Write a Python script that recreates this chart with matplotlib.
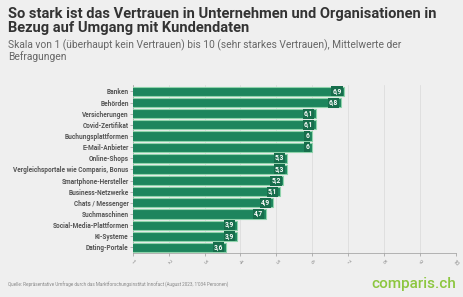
import matplotlib.pyplot as plt
import numpy as np

categories = ["Banken", "Behörden", "Versicherungen", "Covid-Zertifikat",
              "Buchungsplattformen", "E-Mail-Anbieter", "Online-Shops",
              "Vergleichsportale wie Comparis, Bonus", "Smartphone-Hersteller",
              "Business-Netzwerke", "Chats / Messenger", "Suchmaschinen",
              "Social-Media-Plattformen", "KI-Systeme", "Dating-Portale"]
values = [6.9, 6.8, 6.1, 6.1, 6.0, 6.0, 5.3, 5.3, 5.2, 5.1, 4.9, 4.7, 3.9, 3.9, 3.6]
ticks = list(range(1, 11))

bg = "#efefef"
green = "#1d855d"
edge = "#8fd3ab"

fig = plt.figure(figsize=(4.63, 2.97), dpi=100, facecolor=bg)
ax = fig.add_axes([0.287, 0.148, 0.697, 0.565], facecolor=bg)

y = np.arange(len(categories))
ax.barh(y, values, height=0.82, color=green, edgecolor=edge, linewidth=0.8, zorder=3)
for yi, v in zip(y, values):
    lab = f"{v:.1f}".replace(".", ",") if v != int(v) else f"{int(v)}"
    ax.text(v - 0.08, yi, lab, ha="right", va="center", color="white",
            fontsize=4.8, fontweight="bold", family="Roboto", zorder=4,
            bbox=dict(boxstyle="square,pad=0.15", fc="#176e4c", ec="none"))

ax.set_xlim(1, 10)
ax.set_ylim(len(categories) - 0.5, -0.55)
ax.set_yticks(y)
ax.set_yticklabels(categories, fontsize=4.7, fontweight="bold", color="#555555",
                   family="Roboto")
ax.set_xticks(ticks)
ax.set_xticklabels([str(t) for t in ticks], fontsize=4, color="#888888",
                   rotation=-45, ha="center", family="Roboto")
ax.tick_params(axis="y", length=2, width=0.5, color="#999999", pad=1)
ax.tick_params(axis="x", length=2.5, width=0.5, color="#999999", pad=2)
ax.grid(axis="x", color="#dddddd", lw=0.6, zorder=0)
for s in ["top", "right"]:
    ax.spines[s].set_visible(False)
ax.spines["left"].set_color("#999999")
ax.spines["left"].set_linewidth(0.5)
ax.spines["bottom"].set_color("#999999")
ax.spines["bottom"].set_linewidth(0.5)

fig.text(0.017, 0.978, "So stark ist das Vertrauen in Unternehmen und Organisationen in\n"
         "Bezug auf Umgang mit Kundendaten", ha="left", va="top", fontsize=10.5,
         fontweight="bold", color="#333333", family="Roboto", linespacing=1.05)
fig.text(0.017, 0.868, "Skala von 1 (überhaupt kein Vertrauen) bis 10 (sehr starkes Vertrauen), "
         "Mittelwerte der\nBefragungen", ha="left", va="top", fontsize=7.4,
         color="#666666", family="Roboto", linespacing=1.05)
fig.text(0.017, 0.033, "Quelle: Repräsentative Umfrage durch das Marktforschungsinstitut "
         "Innofact (August 2023, 1'034 Personen)", ha="left", va="baseline",
         fontsize=3.3, color="#888888", family="Roboto")
fig.text(0.985, 0.03, "comparis.ch", ha="right", va="baseline", fontsize=11,
         color="#8cc63f", family="Roboto", fontweight="medium")

fig.savefig("out.png", dpi=100, facecolor=bg)
